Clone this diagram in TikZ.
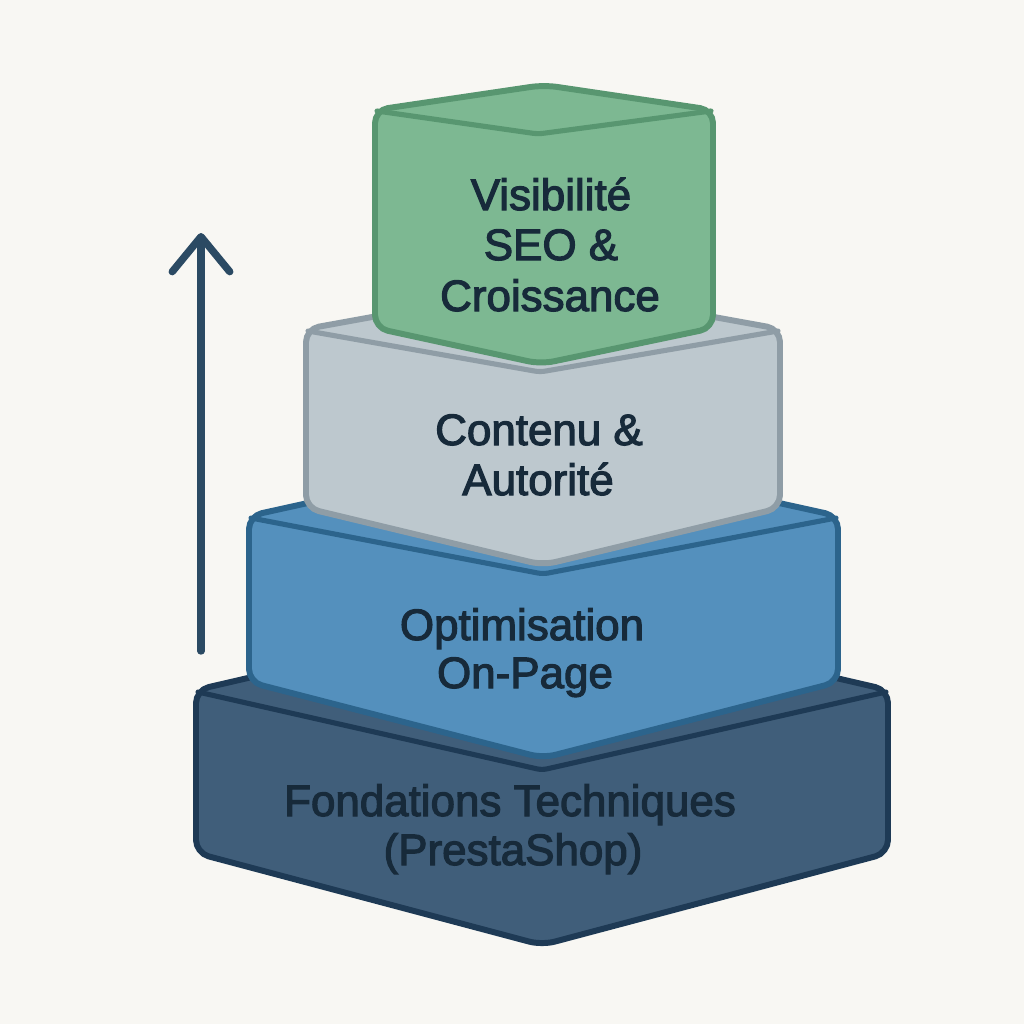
\documentclass[tikz,border=0pt]{standalone}
\usepackage{fontspec}
\usetikzlibrary{arrows.meta}
\newfontfamily\lblfont[FakeBold=2.6]{Liberation Sans}
\definecolor{bgc}{HTML}{F8F7F3}
\definecolor{greenfill}{HTML}{7DB892}
\definecolor{greenline}{HTML}{589670}
\definecolor{greyfill}{HTML}{BDC8CE}
\definecolor{greyline}{HTML}{8F9DA6}
\definecolor{bluefill}{HTML}{5490BD}
\definecolor{blueline}{HTML}{2C648C}
\definecolor{darkfill}{HTML}{405E7A}
\definecolor{darkline}{HTML}{1E3A55}
\definecolor{txt}{HTML}{172A3A}
\definecolor{arrowc}{HTML}{2B4A63}
\begin{document}
\begin{tikzpicture}[x=0.02cm,y=-0.02cm,
  blockbody/.style={line width=3.4pt, rounded corners=0.26cm, line join=round},
  frontedge/.style={line width=2.9pt, rounded corners=0.1cm, line join=round, line cap=round},
  lbl/.style={font=\lblfont\fontsize{25}{28}\selectfont, text=txt, anchor=base, inner sep=0pt},
  riser/.style={line width=4.2pt, line cap=round, arrowc, -{Straight Barb[length=0.7cm, width=1.15cm, round]}}]
\fill[bgc] (0,0) rectangle (1024,1024);
\useasboundingbox (0,0) rectangle (1024,1024);
% block 4 (dark)
\draw[blockbody, fill=darkfill, draw=darkline]
  (196,690) -- (542,610) -- (888,690) -- (888,853) -- (542,945) -- (196,853) -- cycle;
\draw[frontedge, darkline] (198,692) -- (542,770) -- (886,692);
% block 3 (blue)
\draw[blockbody, fill=bluefill, draw=blueline]
  (249,516) -- (543,451) -- (838,516) -- (838,682) -- (543,758) -- (249,682) -- cycle;
\draw[frontedge, blueline] (251,518) -- (543,574) -- (836,518);
% block 2 (grey)
\draw[blockbody, fill=greyfill, draw=greyline]
  (306,329) -- (543,286) -- (780,329) -- (780,508) -- (543,565) -- (306,508) -- cycle;
\draw[frontedge, greyline] (308,331) -- (540,372) -- (778,331);
% block 1 (green)
\draw[blockbody, fill=greenfill, draw=greenline]
  (375,110) -- (544,85) -- (713,110) -- (713,328) -- (541,364) -- (375,328) -- cycle;
\draw[frontedge, greenline] (377,111) -- (538,134) -- (711,111);
% labels
\node[lbl] (g1) at (551,210) {Visibilité};
\node[lbl] (g2) at (551,260) {SEO \&};
\node[lbl] (g3) at (550,311) {Croissance};
\node[lbl] (c1) at (539,445) {Contenu \&};
\node[lbl] (c2) at (538,495) {Autorité};
\node[lbl] (o1) at (522,640) {Optimisation};
\node[lbl] (o2) at (525,688) {On-Page};
\node[lbl] (f1) at (510,816) {Fondations Techniques};
\node[lbl] (f2) at (513,865) {(PrestaShop)};
% arrow
\coordinate (abot) at (201,651);
\coordinate (atop) at (201,233);
\draw[riser] (abot) -- (atop);
\end{tikzpicture}
\end{document}
